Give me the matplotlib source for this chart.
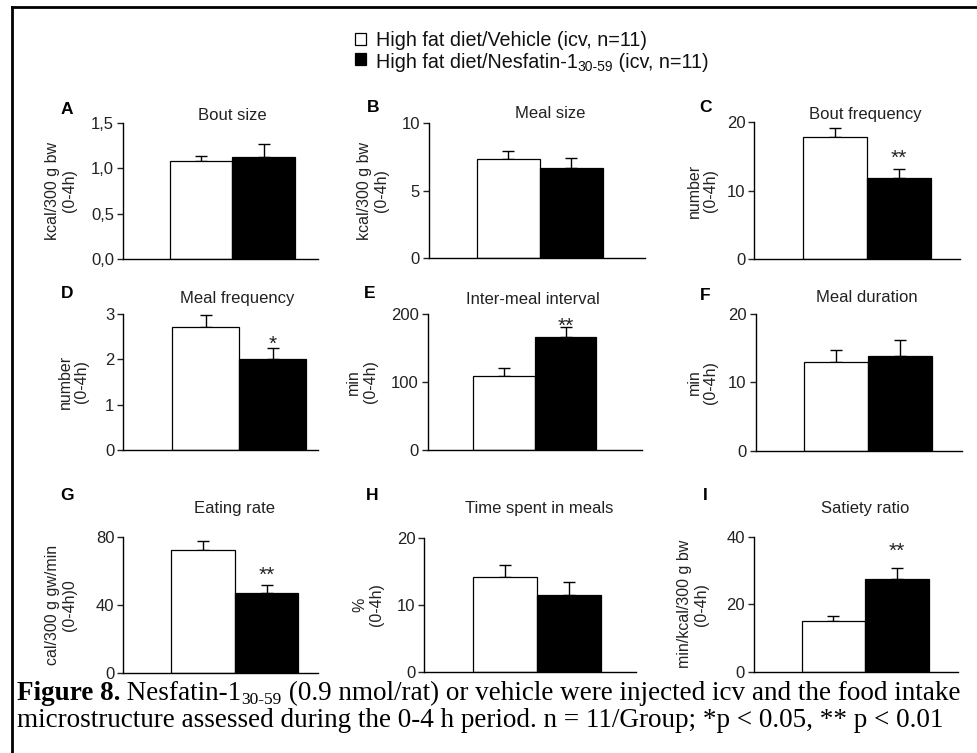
import matplotlib
matplotlib.use("Agg")
import matplotlib.pyplot as plt
from matplotlib.patches import Rectangle
from matplotlib.lines import Line2D

plt.rcParams['font.family'] = ['Liberation Sans', 'DejaVu Sans']

# ---------------- data ----------------
panel_letters = ["A", "B", "C", "D", "E", "F", "G", "H", "I"]
titles = ["Bout size", "Meal size", "Bout frequency",
          "Meal frequency", "Inter-meal interval", "Meal duration",
          "Eating rate", "Time spent in meals", "Satiety ratio"]
ylabels = ["kcal/300 g bw\n(0-4h)", "kcal/300 g bw\n(0-4h)", "number\n(0-4h)",
           "number\n(0-4h)", "min\n(0-4h)", "min\n(0-4h)",
           "cal/300 g gw/min\n(0-4h)0", "%\n(0-4h)", "min/kcal/300 g bw\n(0-4h)"]
yticks = [[0, 0.5, 1.0, 1.5], [0, 5, 10], [0, 10, 20],
          [0, 1, 2, 3], [0, 100, 200], [0, 10, 20],
          [0, 40, 80], [0, 10, 20], [0, 20, 40]]
ytick_labels = [["0,0", "0,5", "1,0", "1,5"], ["0", "5", "10"], ["0", "10", "20"],
                ["0", "1", "2", "3"], ["0", "100", "200"], ["0", "10", "20"],
                ["0", "40", "80"], ["0", "10", "20"], ["0", "20", "40"]]
vehicle_mean = [1.08, 7.35, 17.8, 2.72, 108, 13.0, 72.3, 14.2, 15.1]
vehicle_sem = [0.06, 0.60, 1.3, 0.26, 12, 1.7, 5.5, 1.8, 1.4]
nesfatin_mean = [1.12, 6.70, 11.9, 2.00, 166, 13.9, 47.1, 11.5, 27.5]
nesfatin_sem = [0.15, 0.75, 1.2, 0.24, 14, 2.3, 4.7, 1.95, 3.4]
significance = ["", "", "**", "*", "**", "", "**", "", "**"]
groups = ["High fat diet/Vehicle (icv, n=11)",
          "High fat diet/Nesfatin-1", "30-59", " (icv, n=11)"]

# ---------------- layout (pixels) ----------------
W, H = 977, 753
# left, right, top(ymax), bottom(0), white-bar left, bar width
layout = [
    (123.0, 318.0, 123.0, 259.0, 170.0, 62.5),
    (429.0, 645.0, 123.3, 258.3, 476.7, 63.0),
    (754.3, 960.0, 122.3, 259.0, 802.7, 64.0),
    (123.3, 318.0, 314.0, 450.0, 172.3, 67.0),
    (427.7, 641.7, 313.7, 450.0, 473.3, 61.5),
    (755.7, 961.7, 314.0, 450.7, 804.0, 64.0),
    (123.3, 318.0, 537.3, 672.7, 171.0, 63.7),
    (424.3, 636.0, 537.7, 672.3, 472.7, 64.0),
    (753.7, 958.0, 537.0, 671.7, 801.7, 63.5),
]
ylabel_cx = [61, 373, 702.5, 73.5, 362, 702.5, 61, 368, 693]
letter_pos = [(67, 110), (373, 108), (705, 108),
              (67, 293), (370, 293), (705, 295),
              (67, 495), (372, 495), (705, 495)]
title_pos = [(232, 115), (550, 113), (865, 114),
             (237, 299), (533, 299), (867, 298),
             (235, 508), (539, 508), (865, 508)]
star_offset_pt = [0, 0, 4.0, -0.7, -3.0, 0, 3.0, 0, 8.0]

fig = plt.figure(figsize=(W / 100, H / 100), dpi=100)

for i in range(9):
    l, r, t, b, wl, bw = layout[i]
    ax = fig.add_axes([l / W, 1 - b / H, (r - l) / W, (b - t) / H])
    c0 = wl + bw / 2.0
    xl = -(c0 - l) / bw
    xr = (r - c0) / bw
    ax.bar([0], [vehicle_mean[i]], width=1.0, color="white", edgecolor="black",
           linewidth=0.9, zorder=2)
    ax.bar([1], [nesfatin_mean[i]], width=1.0, color="black", edgecolor="black",
           linewidth=0.9, zorder=2)
    ax.errorbar([0], [vehicle_mean[i]], yerr=[[0], [vehicle_sem[i]]], fmt="none",
                ecolor="black", elinewidth=1.0, capsize=4.5, capthick=1.0, zorder=1)
    ax.errorbar([1], [nesfatin_mean[i]], yerr=[[0], [nesfatin_sem[i]]], fmt="none",
                ecolor="black", elinewidth=1.0, capsize=4.5, capthick=1.0, zorder=1)
    ax.set_xlim(xl, xr)
    ax.set_ylim(0, yticks[i][-1])
    ax.set_yticks(yticks[i])
    ax.set_yticklabels(ytick_labels[i])
    ax.set_xticks([])
    for s in ["top", "right"]:
        ax.spines[s].set_visible(False)
    for s in ["left", "bottom"]:
        ax.spines[s].set_linewidth(1.0)
        ax.spines[s].set_color("black")
    ax.tick_params(axis="y", direction="out", length=4, width=1.0,
                   labelsize=12, pad=2.5, colors="#222222", labelcolor="#222222")
    ax.set_ylabel(ylabels[i], fontsize=11.5, linespacing=1.15, color="#222222",
                  ha="center", va="center")
    ax.yaxis.set_label_coords((ylabel_cx[i] - l) / (r - l), 0.5)
    ax.patch.set_alpha(0)
    if significance[i]:
        ax.annotate(significance[i], xy=(1, nesfatin_mean[i] + nesfatin_sem[i]),
                    xytext=(0, star_offset_pt[i]), textcoords="offset points",
                    ha="center", va="baseline", fontsize=15, color="#222222")
    lx, ly = letter_pos[i]
    fig.text(lx / W, 1 - ly / H, panel_letters[i], fontsize=12.5, fontweight="bold",
             ha="center", va="center")
    tx, ty = title_pos[i]
    fig.text(tx / W, 1 - ty / H, titles[i], fontsize=12, ha="center", va="center",
             color="#222222")

# ---------------- border ----------------
fig.add_artist(Line2D([12 / W, 1.0], [1 - 7 / H, 1 - 7 / H], color="black", lw=2.0))
fig.add_artist(Line2D([12 / W, 12 / W], [1 - 7 / H, 0.0], color="black", lw=2.0))

# ---------------- rich text helper ----------------
fig.canvas.draw()
renderer = fig.canvas.get_renderer()


def rich(x, y, pieces):
    for txt, props, dy in pieces:
        t = fig.text(x / W, 1 - (y + dy) / H, txt, va="baseline", ha="left", **props)
        bb = t.get_window_extent(renderer)
        x += bb.width
    return x


# ---------------- legend ----------------
fig.add_artist(Rectangle((355 / W, 1 - 45 / H), 11 / W, 12 / H, facecolor="white",
                         edgecolor="black", lw=0.9, transform=fig.transFigure))
fig.add_artist(Rectangle((355 / W, 1 - 65 / H), 11 / W, 12 / H, facecolor="black",
                         edgecolor="black", lw=0.9, transform=fig.transFigure))
lp = dict(fontsize=14.2, color="#111111")
sp = dict(fontsize=10, color="#111111")
rich(376, 46.5, [(groups[0], lp, 0)])
rich(376, 67.5, [(groups[1], lp, 0), (groups[2], sp, 3.5), (groups[3], lp, 0)])

# ---------------- caption ----------------
cap = dict(fontsize=19.5, family="Liberation Serif")
capb = dict(fontsize=19.5, family="Liberation Serif", fontweight="bold")
caps = dict(fontsize=12.5, family="Liberation Serif")
rich(17, 700, [("Figure 8.", capb, 0), (" Nesfatin-1", cap, 0), ("30-59", caps, 4),
               (" (0.9 nmol/rat) or vehicle were injected icv and the food intake", cap, 0)])
rich(17, 727, [("microstructure assessed during the 0-4 h period. n = 11/Group; *p < 0.05, ** p < 0.01",
                cap, 0)])

fig.savefig("out.png", dpi=100)
